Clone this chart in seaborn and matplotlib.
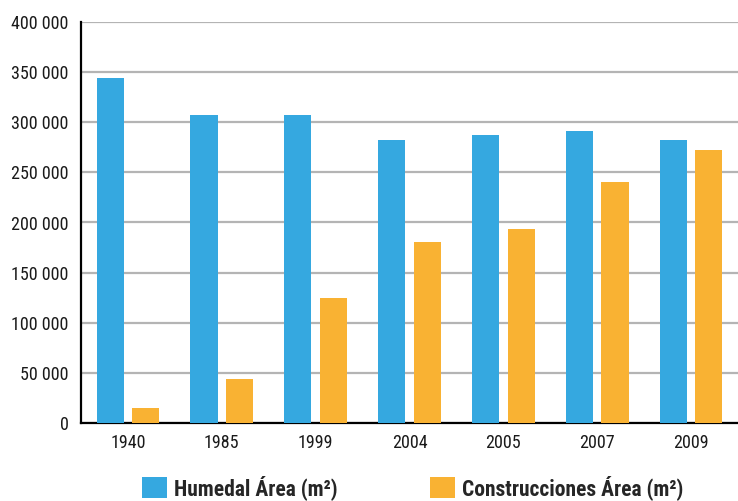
import matplotlib
matplotlib.use("Agg")
import matplotlib.pyplot as plt
from matplotlib.patches import Patch
from matplotlib.ticker import FuncFormatter, FixedLocator
import seaborn as sns
import pandas as pd

years = ["1940", "1985", "1999", "2004", "2005", "2007", "2009"]
humedal = [344500, 307500, 307500, 282500, 287500, 291500, 282500]
construcciones = [14500, 43500, 125000, 181000, 194000, 240000, 272000]
series_names = ["Humedal Área (m²)", "Construcciones Área (m²)"]
colors = ["#35A8E0", "#F9B233"]

df = pd.DataFrame({
    "year": years * 2,
    "area": humedal + construcciones,
    "serie": [series_names[0]] * len(years) + [series_names[1]] * len(years),
})

sns.set_style("white")
plt.rcParams["font.family"] = ["Roboto Condensed", "DejaVu Sans"]

fig = plt.figure(figsize=(7.38, 5.01), dpi=100)
ax = fig.add_axes([81 / 738, 78 / 501, 1 - 81 / 738, 401 / 501])

sns.barplot(data=df, x="year", y="area", hue="serie", palette=colors,
            width=0.76, gap=0.24, saturation=1, ax=ax, legend=False,
            linewidth=0, edgecolor="none", zorder=3)

ax.set_ylim(0, 400000)
ax.set_xlim(-0.5, len(years) - 0.5)
ax.set_yticks(range(0, 400001, 50000))
ax.yaxis.set_major_formatter(FuncFormatter(lambda v, p: f"{int(v):,}".replace(",", " ")))
ax.grid(axis="y", color="#b4b4b4", linewidth=1.6, zorder=0)
ax.set_axisbelow(True)
ax.set_xlabel("")
ax.set_ylabel("")

for s in ["top", "right"]:
    ax.spines[s].set_visible(False)
for s in ["left", "bottom"]:
    ax.spines[s].set_color("black")
    ax.spines[s].set_linewidth(1.6)

ax.tick_params(axis="y", which="major", length=6, width=1.6, color="black",
               labelsize=13, pad=3, labelcolor="#1a1a1a")
ax.tick_params(axis="x", which="major", length=0, labelsize=13, pad=8,
               labelcolor="#1a1a1a")
ax.xaxis.set_minor_locator(FixedLocator([i - 0.5 for i in range(len(years) + 1)]))
ax.tick_params(axis="x", which="minor", length=8, width=1.6, color="black",
               direction="inout")

handles = [Patch(facecolor=c, edgecolor="none") for c in colors]
fig.legend(handles, series_names, loc="lower left",
           bbox_to_anchor=(142 / 738, 0.002), ncol=2, frameon=False,
           prop={"weight": "bold", "size": 15.5}, handlelength=1.15,
           handleheight=1.15, handletextpad=0.33, columnspacing=4.3,
           borderpad=0.0, borderaxespad=0.0)

fig.savefig("out.png", dpi=100)
